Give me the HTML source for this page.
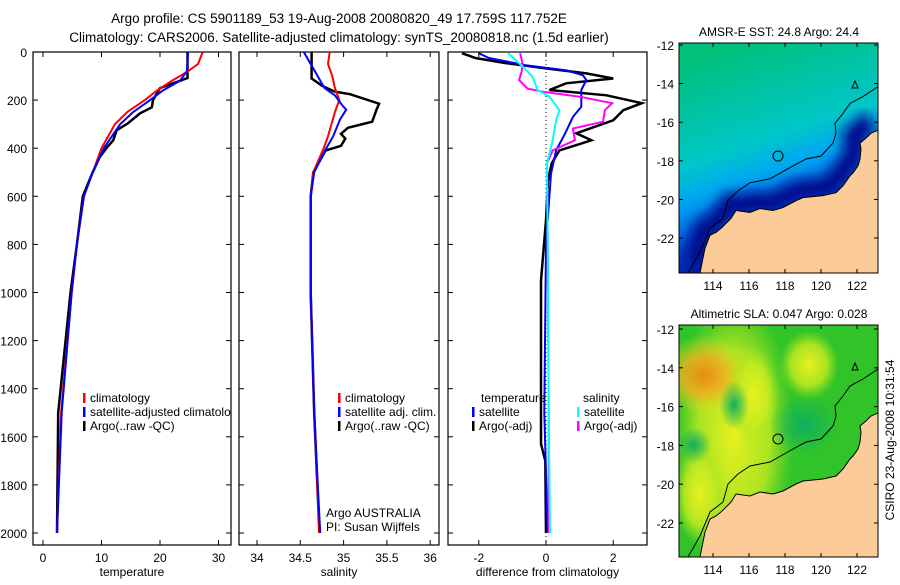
<!DOCTYPE html>
<html><head><meta charset="utf-8"><style>
body{margin:0;background:#fff;}
svg text{font-family:"Liberation Sans",sans-serif;fill:#000;}
</style></head><body>
<svg id="fig" width="900" height="580" viewBox="0 0 900 580" xmlns="http://www.w3.org/2000/svg">
<defs>
<clipPath id="c1"><rect x="33" y="52" width="198" height="493"/></clipPath>
<clipPath id="c2"><rect x="239" y="52" width="200" height="493"/></clipPath>
<clipPath id="c3"><rect x="448" y="52" width="199" height="493"/></clipPath>
<linearGradient id="sstg" x1="0.3" y1="0" x2="0.6" y2="1">
<stop offset="0" stop-color="#00c07a"/><stop offset="0.25" stop-color="#00c4a8"/>
<stop offset="0.42" stop-color="#00c6c8"/><stop offset="0.55" stop-color="#00a8f0"/>
<stop offset="0.68" stop-color="#0070e8"/><stop offset="0.82" stop-color="#0030b8"/><stop offset="1" stop-color="#000090"/>
</linearGradient>
<filter id="blur6"><feGaussianBlur stdDeviation="6"/></filter>
<radialGradient id="or1"><stop offset="0" stop-color="#e88a10"/><stop offset="0.5" stop-color="#f0b020" stop-opacity="0.8"/><stop offset="1" stop-color="#e0e020" stop-opacity="0"/></radialGradient>
<radialGradient id="ye1"><stop offset="0" stop-color="#e8f020"/><stop offset="0.6" stop-color="#c8ec20" stop-opacity="0.8"/><stop offset="1" stop-color="#a0e020" stop-opacity="0"/></radialGradient>
<radialGradient id="gr1"><stop offset="0" stop-color="#10b060"/><stop offset="1" stop-color="#10b060" stop-opacity="0"/></radialGradient>
</defs>
<g id="root"></g>
</svg>
<script>
// ---------- data ----------
const tempClimDepth = [0,50,80,120,160,200,250,300,400,500,600,800,1000,1500,2000];
const tempClim      = [27.3,26.5,24.8,22,19.5,17.4,14.4,12.3,10,8.5,7,5.8,4.9,3.1,2.4];
const tempSatDepth  = [0,80,120,160,200,250,300,350,400,500,600,800,1000,1500,2000];
const tempSat       = [24.8,24.6,23.4,20.5,18.3,15.4,13.2,11.8,10.4,8.5,7,5.8,4.9,3.2,2.4];
const tempArgoDepth = [0,108,150,200,230,255,297,325,367,395,437,500,600,800,1000,1500,2000];
const tempArgo      = [24.7,24.7,20,18.8,18.6,16.6,14.5,12.6,12,11,9.7,8.5,6.8,5.8,4.7,2.6,2.4];

const salClimDepth = [0,50,100,150,200,250,300,350,400,450,500,600,1000,1500,2000];
const salClim      = [34.84,34.82,34.87,34.9,34.95,34.9,34.86,34.82,34.77,34.71,34.65,34.62,34.62,34.66,34.72];
const salSatDepth  = [0,50,100,150,180,220,240,280,350,400,450,500,600,1000,1500,2000];
const salSat       = [34.54,34.62,34.7,34.78,34.9,34.98,35.03,34.96,34.88,34.8,34.73,34.66,34.62,34.62,34.66,34.73];
const salArgoDepth = [0,110,140,165,175,215,240,290,315,340,360,390,410,450,500,600,1000,1500,2000];
const salArgo      = [34.63,34.63,34.75,34.9,35.07,35.41,35.38,35.33,35.05,34.97,35.02,34.97,34.79,34.73,34.65,34.62,34.62,34.66,34.72];

const dTempArgoDepth = [5,25,46,68,89,110,130,158,180,213,242,284,338,367,409,463,534,700,950,1300,1630,1700,2000];
const dTempArgo      = [-2.5,-2.1,-1.2,0,1.2,2.0,0.6,0.1,1.8,2.85,2.3,2.0,0.9,1.35,0.4,0.17,0.06,0,-0.15,-0.15,-0.15,-0.02,0];
const dTempSatDepth  = [5,25,55,76,97,117,158,228,270,338,409,506,800,1500,2000];
const dTempSat       = [-2.0,-1.7,-0.6,0.6,1.1,1.2,1.05,1.05,0.8,0.57,0.3,0.15,0,-0.05,0.05];
const dSalArgoDepth  = [5,46,80,117,152,165,186,213,242,290,318,367,409,463,800,1500,2000];
const dSalArgo       = [-0.77,-0.7,-0.72,-0.8,-0.55,-0.1,1.0,1.97,1.75,1.7,0.8,0.86,0.2,0.03,0.05,0.08,0.08];
const dSalSatDepth   = [5,60,103,158,186,242,284,367,463,800,1500,2000];
const dSalSat        = [-1.13,-0.7,-0.4,-0.25,0.1,0.4,0.3,0.2,0.03,0.05,0.08,0.12];

const depthTicks = [0,200,400,600,800,1000,1200,1400,1600,1800,2000];
const tempTicks = [0,10,20,30];
const salTicks = [34,34.5,35,35.5,36];
const salTickLabels = ["34","34.5","35","35.5","36"];
const diffTicks = [-2,0,2];
const latTicks = [-12,-14,-16,-18,-20,-22];
const lonTicks = [114,116,118,120,122];

// ---------- scales ----------
const BOT = 545;
const yD = d => 52 + d*0.2405;
const xT = t => 43 + 5.85*t;
const xS = s => 257 + 86.6*(s-34);
const xV = v => 546 + 33.6*v;

const NS="http://www.w3.org/2000/svg";
const root=document.getElementById('root');
function mk(tag,attrs,parent){const e=document.createElementNS(NS,tag);for(const k in attrs)e.setAttribute(k,attrs[k]);(parent||root).appendChild(e);return e;}
function txt(s,x,y,anchor,size,parent){const t=mk('text',{x:x,y:y,'text-anchor':anchor||'start','font-size':size||12},parent);t.textContent=s;return t;}

let t1=txt("Argo profile: CS 5901189_53 19-Aug-2008 20080820_49 17.759S 117.752E",339,23,'middle',13.5);


let t2=txt("Climatology: CARS2006. Satellite-adjusted climatology: synTS_20080818.nc (1.5d earlier)",339,42,'middle',13.5);



function panel(name,x0,x1,clip,ticks,labels,xs,xtitle,showY){
  const g=mk('g',{});
  
  
  mk('rect',{x:x0,y:52,width:x1-x0,height:BOT-52,fill:'#fff',stroke:'#000','stroke-width':1.2},g);
  depthTicks.forEach(d=>{
    const y=yD(d);
    mk('line',{x1:x0,x2:x0+5,y1:y,y2:y,stroke:'#000'},g);
    mk('line',{x1:x1-5,x2:x1,y1:y,y2:y,stroke:'#000'},g);
    if(showY){const l=txt(String(d),27,y+5,'end',12,g);
      
      }
  });
  ticks.forEach((v,i)=>{
    const x=xs(v);
    mk('line',{x1:x,x2:x,y1:52,y2:57,stroke:'#000'},g);
    mk('line',{x1:x,x2:x,y1:BOT-5,y2:BOT,stroke:'#000'},g);
    const l=txt(labels[i],x,BOT+17,'middle',12,g);
    
    
  });
  const at=txt(xtitle,(x0+x1)/2,576,'middle',12,g);
  
  
  return mk('g',{'clip-path':'url(#'+clip+')'},g);
}
function series(g,depths,vals,xs,color,w,name){
  const p=mk('polyline',{points:depths.map((d,i)=>xs(vals[i]).toFixed(1)+','+yD(d).toFixed(1)).join(' '),fill:'none',stroke:color,'stroke-width':w},g);
  
  
}
function legend(g,x,y,color,label,name){
  mk('rect',{x:x,y:y-9,width:2.5,height:10,fill:color},g);
  const l=txt(label,x+7,y,'start',12,g);
  
  
}

const g1=panel('temperature-panel',33,231,'c1',tempTicks,tempTicks.map(String),xT,'temperature',true);
series(g1,tempArgoDepth,tempArgo,xT,'#000',2.5,'temp-argo-line');
series(g1,tempClimDepth,tempClim,xT,'#f00',2,'temp-climatology-line');
series(g1,tempSatDepth,tempSat,xT,'#00f',2,'temp-satellite-line');
legend(g1,83,402,'#f00','climatology','legend-climatology');
legend(g1,83,416,'#00f','satellite-adjusted climatology','legend-satellite');
legend(g1,83,430,'#000','Argo(..raw -QC)','legend-argo');

const g2=panel('salinity-panel',239,439,'c2',salTicks,salTickLabels,xS,'salinity',false);
series(g2,salArgoDepth,salArgo,xS,'#000',2.5,'sal-argo-line');
series(g2,salClimDepth,salClim,xS,'#f00',2,'sal-climatology-line');
series(g2,salSatDepth,salSat,xS,'#00f',2,'sal-satellite-line');
legend(g2,338,402,'#f00','climatology','legend-sal-climatology');
legend(g2,338,416,'#00f','satellite adj. clim.','legend-sal-satellite');
legend(g2,338,430,'#000','Argo(..raw -QC)','legend-sal-argo');
let a1=txt('Argo AUSTRALIA',326,517,'start',12,g2);


let a2=txt('PI: Susan Wijffels',326,531,'start',12,g2);



const g3=panel('difference-panel',448,647,'c3',diffTicks,diffTicks.map(String),xV,'difference from climatology',false);
mk('line',{x1:xV(0),x2:xV(0),y1:52,y2:BOT,stroke:'#000','stroke-dasharray':'1,3'},g3);
series(g3,dTempArgoDepth,dTempArgo,xV,'#000',2.5,'diff-temp-argo-line');
series(g3,dTempSatDepth,dTempSat,xV,'#00f',2,'diff-temp-satellite-line');
series(g3,dSalArgoDepth,dSalArgo,xV,'#f0f',2,'diff-sal-argo-line');
series(g3,dSalSatDepth,dSalSat,xV,'#0ff',2,'diff-sal-satellite-line');
let h1=txt('temperature',481,402,'start',12,g3);
let h2=txt('salinity',583,402,'start',12,g3);
legend(g3,472,416,'#00f','satellite','legend-diff-temp-sat');
legend(g3,472,430,'#000','Argo(-adj)','legend-diff-temp-argo');
legend(g3,577,416,'#0ff','satellite','legend-diff-sal-sat');
legend(g3,577,430,'#f0f','Argo(-adj)','legend-diff-sal-argo');

// ---------- maps ----------
const coast=[[21,232],[26,207],[31,194],[37,191],[42,187],[52,177],[57,169],[71,171],[81,167],[94,169],[104,166],[117,159],[124,156],[144,154],[157,151],[164,144],[171,134],[174,131],[179,124],[181,117],[182,107],[181,101],[187,96],[192,91],[199,88],[199,232]];
const iso=[[9,232],[21,211],[31,187],[44,177],[49,159],[59,149],[71,141],[91,137],[114,124],[127,117],[142,114],[154,101],[157,91],[156,81],[164,71],[171,61],[184,54],[199,44]];
function map(name,x0,y0,h,lat12,latPx,title,fillFn){
  const g=mk('g',{});
  
  
  const cid='m'+name;
  const cp=mk('clipPath',{id:cid},g); mk('rect',{x:x0,y:y0,width:199,height:h},cp);
  const inner=mk('g',{'clip-path':'url(#'+cid+')'},g);
  fillFn(inner,x0,y0,h);
  mk('polygon',{points:coast.map(p=>(x0+p[0])+','+(y0+p[1]*h/232)).join(' '),fill:'#fccc98',stroke:'#000','stroke-width':1},inner);
  mk('polyline',{points:iso.map(p=>(x0+p[0])+','+(y0+p[1]*h/232)).join(' '),fill:'none',stroke:'#000','stroke-width':1},inner);
  mk('circle',{cx:x0+99,cy:y0+114*h/232,r:5,fill:'none',stroke:'#000','stroke-width':1},inner);
  mk('polygon',{points:`${x0+173},${y0+45} ${x0+179},${y0+45} ${x0+176},${y0+38}`,fill:'none',stroke:'#000','stroke-width':1},inner);
  mk('rect',{x:x0,y:y0,width:199,height:h,fill:'none',stroke:'#000','stroke-width':1},g);
  latTicks.forEach((v,i)=>{
    const y=lat12+i*latPx*2;
    mk('line',{x1:x0,x2:x0+4,y1:y,y2:y,stroke:'#000'},g);
    mk('line',{x1:x0+195,x2:x0+199,y1:y,y2:y,stroke:'#000'},g);
    const l=txt(String(v),x0-5,y+5,'end',12,g);
    
    
  });
  lonTicks.forEach((v,i)=>{
    const x=713+i*36;
    mk('line',{x1:x,x2:x,y1:y0,y2:y0+4,stroke:'#000'},g);
    mk('line',{x1:x,x2:x,y1:y0+h-4,y2:y0+h,stroke:'#000'},g);
    const l=txt(String(v),x,y0+h+17,'middle',12,g);
    
    
  });
  const tt=txt(title,x0+100,y0-7,'middle',12,g);
  
  
}
map('sst-map',679,43,230,45,19.3,'AMSR-E SST: 24.8 Argo: 24.4',(g,x,y,h)=>{
  mk('rect',{x:x,y:y,width:199,height:h,fill:'url(#sstg)'},g);
  mk('polyline',{points:coast.slice(0,25).map(p=>(x+p[0]-6)+','+(y+p[1]-8)).join(' '),fill:'none',stroke:'#000a90','stroke-width':22,filter:'url(#blur6)'},g);
});
map('sla-map',679,325,232,329,19.4,'Altimetric SLA: 0.047 Argo: 0.028',(g,x,y,h)=>{
  mk('rect',{x:x,y:y,width:199,height:h,fill:'#30c428'},g);
  mk('ellipse',{cx:x+55,cy:y+110,rx:60,ry:140,fill:'url(#ye1)'},g);
  mk('ellipse',{cx:x+25,cy:y+50,rx:45,ry:40,fill:'url(#or1)'},g);
  mk('ellipse',{cx:x+75,cy:y+70,rx:25,ry:50,fill:'url(#ye1)'},g);
  mk('ellipse',{cx:x+130,cy:y+40,rx:30,ry:35,fill:'url(#ye1)'},g);
  mk('ellipse',{cx:x+20,cy:y+170,rx:25,ry:50,fill:'url(#ye1)'},g);
  mk('ellipse',{cx:x+15,cy:y+120,rx:18,ry:18,fill:'url(#gr1)'},g);
  mk('ellipse',{cx:x+55,cy:y+80,rx:15,ry:25,fill:'url(#gr1)'},g);
  mk('ellipse',{cx:x+125,cy:y+100,rx:35,ry:30,fill:'url(#gr1)'},g);
});
let cs=txt('CSIRO 23-Aug-2008 10:31:54',0,0,'middle',12);
cs.setAttribute('transform','translate(894,440) rotate(-90)');


</script>
</body></html>
